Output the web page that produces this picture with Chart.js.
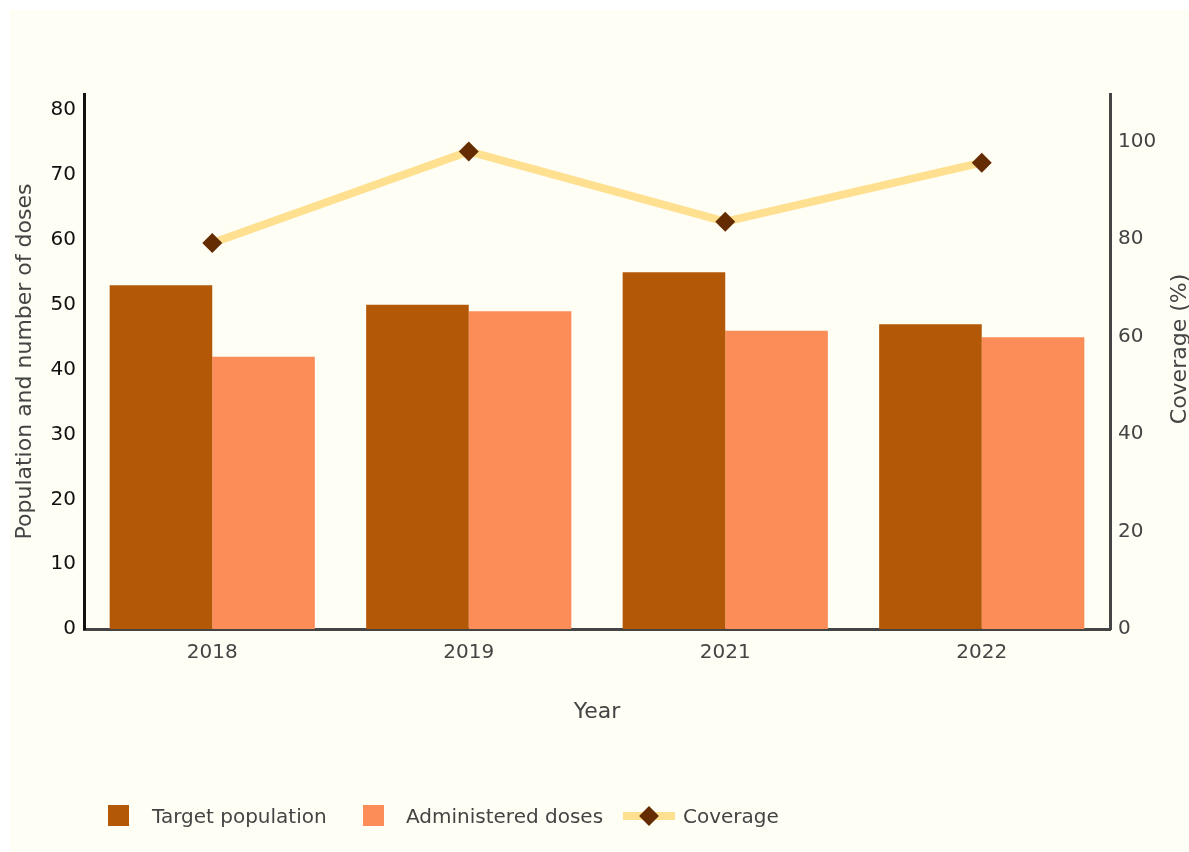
<!DOCTYPE html>
<html>
<head>
<meta charset="utf-8">
<script src="https://cdn.jsdelivr.net/npm/chart.js@4.4.1/dist/chart.umd.min.js"></script>
<style>
  html, body { margin: 0; padding: 0; background: #ffffff; }
  body { width: 1189px; height: 852px; position: relative; overflow: hidden; font-family: "DejaVu Sans", sans-serif; }
  #paper { position: absolute; left: 10px; top: 10px; right: 0; bottom: 0; background: #fffef5; }
  #mychart { position: absolute; left: 0; top: 0; }
  .legend { position: absolute; top: 803px; left: 0; height: 26px; color: #444; font-size: 20px; }
  .legend .item { position: absolute; top: 0; height: 26px; line-height: 26px; white-space: nowrap; }
  .legend .box { position: absolute; top: 2px; width: 21px; height: 21px; }
  .legend .lineSym { position: absolute; top: 9px; width: 52px; height: 8px; background: #fee090; }
  .legend .diamond { position: absolute; top: 6px; width: 14px; height: 14px; background: #652c02; transform: rotate(45deg); }
</style>
</head>
<body>
<div id="paper"></div>
<canvas id="mychart" width="1189" height="852"></canvas>
<div class="legend" id="legend"></div>
<script>
// Số liệu
const years = ["2018", "2019", "2021", "2022"];
const targetPopulation = [53, 50, 55, 47];
const administeredDoses = [42, 49, 46, 45];
const coverage = [79.2, 98, 83.6, 95.7];

const leftTicks = [0, 10, 20, 30, 40, 50, 60, 70, 80];
const rightTicks = [0, 20, 40, 60, 80, 100];

const colTarget = "#b35806";
const colDoses = "#fc8d59";
const colLine = "#fee090";
const colPoint = "#652c02";

Chart.defaults.font.family = "'DejaVu Sans', sans-serif";
Chart.defaults.font.size = 20;

// Tiêu đề trục phải (xoay -90 độ)
const rightTitle = {
  id: "rightTitle",
  afterDraw(chart) {
    const c = chart.ctx;
    c.save();
    c.translate(1180, 349);
    c.rotate(-Math.PI / 2);
    c.font = "22px 'DejaVu Sans', sans-serif";
    c.fillStyle = "#444";
    c.textAlign = "center";
    c.textBaseline = "middle";
    c.fillText("Coverage (%)", 0, 0);
    c.restore();
  },
};

const ctx = document.getElementById("mychart").getContext("2d");
const mychart = new Chart(ctx, {
  data: {
    labels: years,
    datasets: [
      {
        type: "line",
        label: "Coverage",
        data: coverage,
        yAxisID: "y1",
        borderColor: colLine,
        borderWidth: 8,
        pointStyle: "rectRot",
        pointRadius: 10,
        pointBackgroundColor: colPoint,
        pointBorderWidth: 0,
        tension: 0,
        order: 0,
      },
      {
        type: "bar",
        label: "Target population",
        data: targetPopulation,
        yAxisID: "y",
        backgroundColor: colTarget,
        categoryPercentage: 0.8,
        barPercentage: 1.0,
        order: 1,
      },
      {
        type: "bar",
        label: "Administered doses",
        data: administeredDoses,
        yAxisID: "y",
        backgroundColor: colDoses,
        categoryPercentage: 0.8,
        barPercentage: 1.0,
        order: 1,
      },
    ],
  },
  options: {
    responsive: false,
    animation: false,
    layout: { padding: { top: 94, left: 0, right: 0, bottom: 127 } },
    plugins: {
      legend: { display: false },
      tooltip: { enabled: false },
    },
    scales: {
      x: {
        grid: { display: false, drawTicks: false },
        border: { display: true, color: "#444", width: 3 },
        ticks: { color: "#444", padding: 12 },
        title: {
          display: true,
          text: "Year",
          color: "#444",
          font: { size: 22 },
          padding: { top: 0, bottom: 0 },
        },
        afterFit: (s) => { s.height = 96; },
      },
      y: {
        position: "left",
        min: 0,
        max: 82.5,
        grid: { display: false, drawTicks: false },
        border: { display: true, color: "#111", width: 3 },
        ticks: { color: "#111", padding: 8 },
        afterBuildTicks: (s) => { s.ticks = leftTicks.map((v) => ({ value: v })); },
        title: {
          display: true,
          text: "Population and number of doses",
          color: "#444",
          font: { size: 22 },
          padding: { top: 12, bottom: 0 },
        },
        afterFit: (s) => { s.width = 84; },
      },
      y1: {
        position: "right",
        min: 0,
        max: 109.8,
        grid: { display: false, drawTicks: false },
        border: { display: true, color: "#444", width: 3 },
        ticks: { color: "#444", padding: 8 },
        afterBuildTicks: (s) => { s.ticks = rightTicks.map((v) => ({ value: v })); },
        afterFit: (s) => { s.width = 79; },
      },
    },
  },
  plugins: [rightTitle],
});

// Chú giải HTML
const legend = document.getElementById("legend");
legend.innerHTML =
  '<div class="item" style="left:108px"><div class="box" style="left:0;background:' + colTarget + '"></div>' +
  '<span style="position:absolute;left:44px">Target population</span></div>' +
  '<div class="item" style="left:363px"><div class="box" style="left:0;background:' + colDoses + '"></div>' +
  '<span style="position:absolute;left:43px">Administered doses</span></div>' +
  '<div class="item" style="left:623px"><div class="lineSym" style="left:0"></div>' +
  '<div class="diamond" style="left:19px"></div>' +
  '<span style="position:absolute;left:60px">Coverage</span></div>';
</script>
</body>
</html>
